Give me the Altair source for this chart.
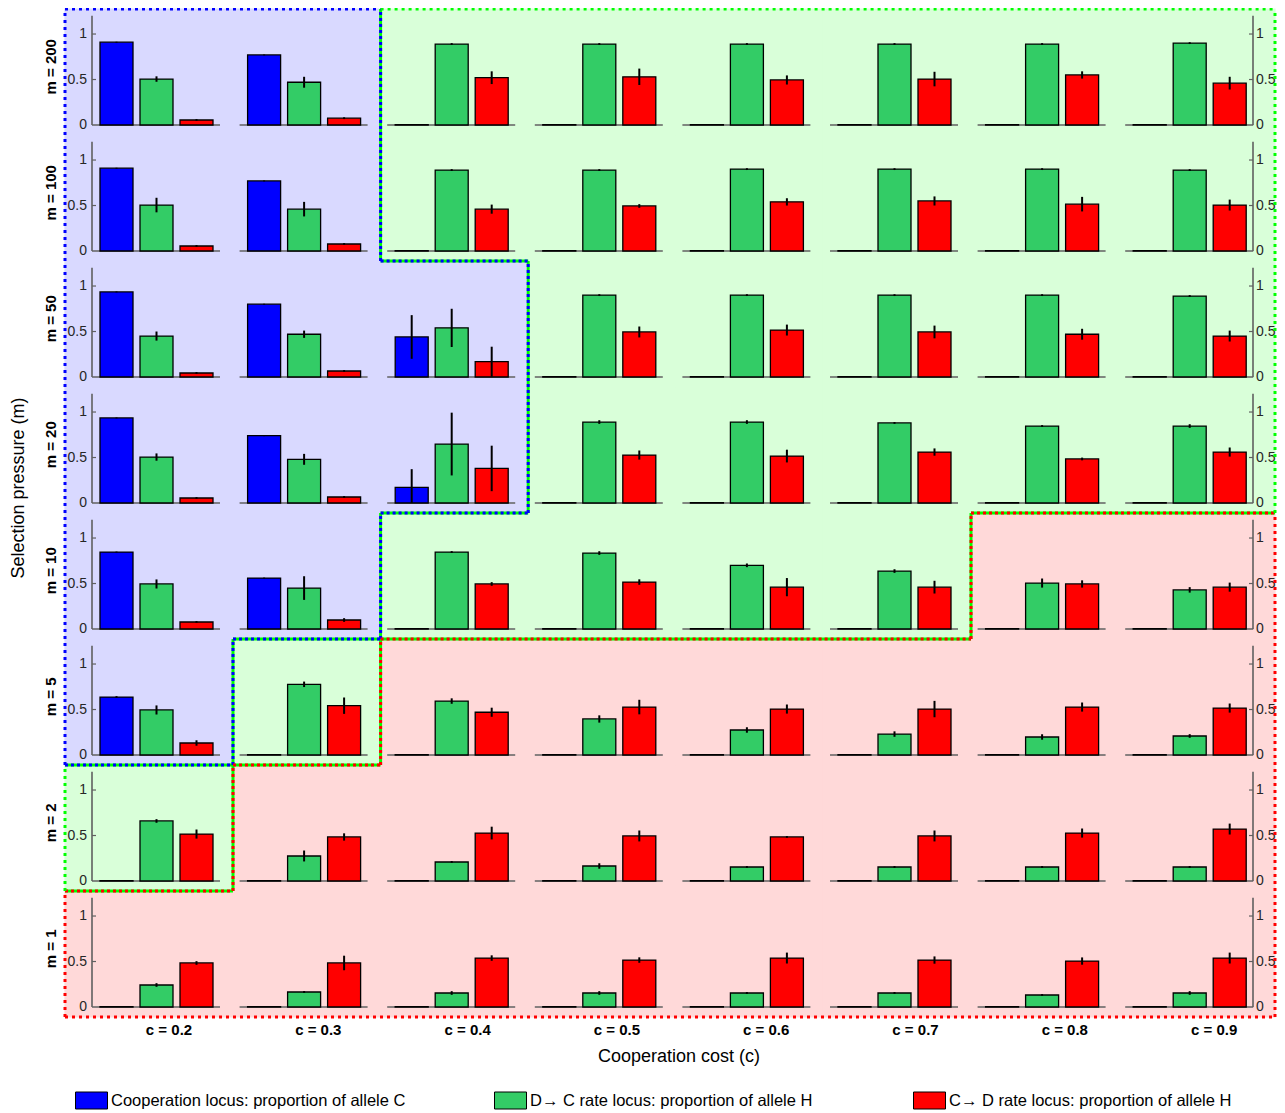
import altair as alt
import pandas as pd

# ---------------- data ----------------
M_LABELS = ["m = 200", "m = 100", "m = 50", "m = 20", "m = 10", "m = 5", "m = 2", "m = 1"]
C_LABELS = ["c = 0.2", "c = 0.3", "c = 0.4", "c = 0.5", "c = 0.6", "c = 0.7", "c = 0.8", "c = 0.9"]
SERIES = ["Cooperation locus: proportion of allele C",
          "D\u2192 C rate locus: proportion of allele H",
          "C\u2192 D rate locus: proportion of allele H"]
BAR_COLORS = ["#0000FF", "#33CC66", "#FF0000"]
TICK_VALUES = [0.0, 0.5, 1.0]
TICK_LABELS = ["0", "0.5", "1"]
X_TITLE = "Cooperation cost (c)"
Y_TITLE = "Selection pressure (m)"

BLUE = [
    [0.91, 0.77, 0.005, 0.005, 0.005, 0.005, 0.005, 0.005],
    [0.91, 0.77, 0.005, 0.005, 0.005, 0.005, 0.005, 0.005],
    [0.935, 0.80, 0.44, 0.005, 0.005, 0.005, 0.005, 0.005],
    [0.935, 0.74, 0.172, 0.005, 0.005, 0.005, 0.005, 0.005],
    [0.846, 0.56, 0.005, 0.005, 0.005, 0.005, 0.005, 0.005],
    [0.637, 0.005, 0.005, 0.005, 0.005, 0.005, 0.005, 0.005],
    [0.005, 0.005, 0.005, 0.005, 0.005, 0.005, 0.005, 0.005],
    [0.005, 0.005, 0.005, 0.005, 0.005, 0.005, 0.005, 0.005],
]
BLUE_ERR = [
    [0.005, 0.005, 0.005, 0.005, 0.005, 0.005, 0.005, 0.005],
    [0.005, 0.005, 0.005, 0.005, 0.005, 0.005, 0.005, 0.005],
    [0.005, 0.005, 0.24, 0.005, 0.005, 0.005, 0.005, 0.005],
    [0.005, 0.005, 0.20, 0.005, 0.005, 0.005, 0.005, 0.005],
    [0.005, 0.005, 0.005, 0.005, 0.005, 0.005, 0.005, 0.005],
    [0.01, 0.005, 0.005, 0.005, 0.005, 0.005, 0.005, 0.005],
    [0.005, 0.005, 0.005, 0.005, 0.005, 0.005, 0.005, 0.005],
    [0.005, 0.005, 0.005, 0.005, 0.005, 0.005, 0.005, 0.005],
]
GREEN = [
    [0.505, 0.47, 0.89, 0.89, 0.89, 0.89, 0.89, 0.90],
    [0.505, 0.46, 0.89, 0.89, 0.90, 0.90, 0.90, 0.89],
    [0.45, 0.47, 0.54, 0.90, 0.90, 0.90, 0.90, 0.89],
    [0.505, 0.48, 0.648, 0.89, 0.89, 0.88, 0.846, 0.846],
    [0.495, 0.45, 0.846, 0.835, 0.70, 0.637, 0.505, 0.43],
    [0.495, 0.777, 0.593, 0.396, 0.275, 0.23, 0.198, 0.209],
    [0.66, 0.275, 0.209, 0.165, 0.154, 0.154, 0.154, 0.154],
    [0.242, 0.165, 0.154, 0.154, 0.154, 0.154, 0.132, 0.154],
]
GREEN_ERR = [
    [0.03, 0.06, 0.01, 0.01, 0.01, 0.01, 0.01, 0.01],
    [0.08, 0.08, 0.01, 0.01, 0.01, 0.01, 0.01, 0.01],
    [0.05, 0.04, 0.21, 0.01, 0.01, 0.01, 0.01, 0.01],
    [0.04, 0.06, 0.345, 0.02, 0.02, 0.01, 0.01, 0.02],
    [0.05, 0.13, 0.01, 0.02, 0.02, 0.02, 0.05, 0.03],
    [0.05, 0.03, 0.03, 0.04, 0.03, 0.03, 0.03, 0.02],
    [0.02, 0.06, 0.01, 0.03, 0.01, 0.01, 0.01, 0.01],
    [0.02, 0.01, 0.02, 0.02, 0.01, 0.01, 0.01, 0.02],
]
RED = [
    [0.055, 0.075, 0.52, 0.53, 0.495, 0.505, 0.55, 0.46],
    [0.055, 0.077, 0.46, 0.495, 0.54, 0.55, 0.515, 0.505],
    [0.044, 0.066, 0.168, 0.495, 0.516, 0.495, 0.47, 0.45],
    [0.055, 0.066, 0.38, 0.527, 0.516, 0.56, 0.484, 0.56],
    [0.077, 0.099, 0.495, 0.516, 0.46, 0.46, 0.495, 0.46],
    [0.132, 0.542, 0.47, 0.527, 0.505, 0.505, 0.527, 0.516],
    [0.516, 0.484, 0.527, 0.495, 0.484, 0.495, 0.527, 0.571],
    [0.484, 0.484, 0.538, 0.516, 0.538, 0.516, 0.505, 0.538],
]
RED_ERR = [
    [0.01, 0.01, 0.07, 0.09, 0.05, 0.08, 0.04, 0.07],
    [0.01, 0.01, 0.05, 0.02, 0.04, 0.05, 0.08, 0.06],
    [0.01, 0.01, 0.165, 0.06, 0.06, 0.07, 0.06, 0.06],
    [0.01, 0.01, 0.25, 0.05, 0.07, 0.04, 0.015, 0.05],
    [0.01, 0.02, 0.02, 0.03, 0.10, 0.07, 0.04, 0.05],
    [0.03, 0.09, 0.05, 0.08, 0.05, 0.09, 0.05, 0.05],
    [0.05, 0.04, 0.07, 0.06, 0.01, 0.06, 0.05, 0.06],
    [0.02, 0.08, 0.03, 0.03, 0.06, 0.04, 0.04, 0.06],
]

# regime of each cell (B = cooperation, G = green regime, R = red regime)
REGIME = [
    "BBGGGGGG",
    "BBGGGGGG",
    "BBBGGGGG",
    "BBBGGGGG",
    "BBGGGGRR",
    "BGRRRRRR",
    "GRRRRRRR",
    "RRRRRRRR",
]
REGIME_FILL = {"B": "#D9D9FF", "G": "#D9FFD9", "R": "#FFD9D9"}
REGIME_LINE = {"B": "#0000FF", "G": "#00FF00", "R": "#FF0000"}

# ---------------- layout ----------------
NROW, NCOL = len(M_LABELS), len(C_LABELS)
STEP_PX = 147.6          # column step in pixels
CELL_PX = 128.0          # baseline length in a cell
SLOT_PX = [8.0, 48.0, 88.0]
BAR_PX = 33.0
W = 1161
H = 1008
R = 1.385                # row step in value units
PXU = H / (NROW * R)
YMIN = -10.0 / PXU
YMAX = YMIN + NROW * R
XMAX = W / STEP_PX
AXIS_TOP = 1.2

XS = alt.Scale(domain=[0, XMAX], nice=False, zero=False)
YS = alt.Scale(domain=[YMIN, YMAX], nice=False, zero=False)


def base(i):
    return (NROW - 1 - i) * R


rows = []
for i in range(NROW):
    for j in range(NCOL):
        for s, (vals, errs) in enumerate([(BLUE, BLUE_ERR), (GREEN, GREEN_ERR), (RED, RED_ERR)]):
            v, e = vals[i][j], errs[i][j]
            x0 = j + SLOT_PX[s] / STEP_PX
            x1 = x0 + BAR_PX / STEP_PX
            b = base(i)
            rows.append(dict(m=M_LABELS[i], c=C_LABELS[j], series=SERIES[s], value=v,
                             x0=x0, x1=x1, xc=(x0 + x1) / 2, yb=b, yt=b + v,
                             elo=b + max(v - e, 0.0), ehi=b + v + e))
bars_df = pd.DataFrame(rows)

base_df = pd.DataFrame([dict(bx0=j, bx1=j + CELL_PX / STEP_PX, by=base(i))
                        for i in range(NROW) for j in range(NCOL)])
axis_df = pd.DataFrame([dict(y0=base(i), y1=base(i) + AXIS_TOP) for i in range(NROW)])
tick_df = pd.DataFrame([dict(ty=base(i) + v) for i in range(NROW) for v in TICK_VALUES[1:]])
ticklab_df = pd.DataFrame([dict(ty=base(i) + v, lab=l) for i in range(NROW)
                           for v, l in zip(TICK_VALUES, TICK_LABELS)])

XLAB_A, XLAB_B = 77.0, 149.3
collab_df = pd.DataFrame([dict(cx=(XLAB_A + XLAB_B * j) / STEP_PX, lab=C_LABELS[j]) for j in range(NCOL)])


def vb(j):
    if j == 0:
        px = -27.0
    elif j == NCOL:
        px = 1183.0
    else:
        px = 141.0 + STEP_PX * (j - 1)
    return px / STEP_PX


def hb(i):
    return YMAX - i * R


bg = []
for i in range(NROW):
    for j in range(NCOL):
        bg.append(dict(cx0=vb(j), cx1=vb(j + 1), cy0=hb(i + 1), cy1=hb(i), reg=REGIME[i][j]))
bg_df = pd.DataFrame(bg)

segs = []


def add_seg(a, b, x0, x1, y0, y1):
    if a is None or b is None:
        c = a or b
        segs.append(dict(x0=x0, x1=x1, y0=y0, y1=y1, color=REGIME_LINE[c], kind="outer"))
    else:
        if "G" in (a, b):
            bc, oc = "G", (b if a == "G" else a)
        else:
            bc, oc = a, b
        segs.append(dict(x0=x0, x1=x1, y0=y0, y1=y1, color=REGIME_LINE[bc], kind="base"))
        segs.append(dict(x0=x0, x1=x1, y0=y0, y1=y1, color=REGIME_LINE[oc], kind="dash"))


for j in range(NCOL + 1):
    run_key, run_start = None, 0
    for i in range(NROW + 1):
        if i < NROW:
            a = REGIME[i][j - 1] if j > 0 else None
            b = REGIME[i][j] if j < NCOL else None
            key = (a, b) if a != b else None
        else:
            key = "END"
        if key != run_key:
            if run_key not in (None, "END"):
                add_seg(run_key[0], run_key[1], vb(j), vb(j), hb(i), hb(run_start))
            run_key, run_start = key, i

for i in range(NROW + 1):
    run_key, run_start = None, 0
    for j in range(NCOL + 1):
        if j < NCOL:
            a = REGIME[i - 1][j] if i > 0 else None
            b = REGIME[i][j] if i < NROW else None
            key = (a, b) if a != b else None
        else:
            key = "END"
        if key != run_key:
            if run_key not in (None, "END"):
                add_seg(run_key[0], run_key[1], vb(run_start), vb(j), hb(i), hb(i))
            run_key, run_start = key, j
seg_df = pd.DataFrame(segs)

label_df = pd.DataFrame([dict(m=M_LABELS[i], ly=base(i) + 0.64) for i in range(NROW)])
title_df = pd.DataFrame([dict(xt=X_TITLE, yt=Y_TITLE)])

# ---------------- chart ----------------
AX_GRAY = "#606060"
TICK_GRAY = "#262626"
layers = []
for reg, fill in REGIME_FILL.items():
    layers.append(
        alt.Chart(bg_df[bg_df.reg == reg]).mark_rect(fill=fill, stroke=fill, strokeWidth=1.2,
                                                     opacity=1).encode(
            x=alt.X("cx0:Q", scale=XS, axis=None), x2="cx1",
            y=alt.Y("cy0:Q", scale=YS, axis=None), y2="cy1")
    )

layers.append(
    alt.Chart(base_df).mark_rule(color=AX_GRAY, strokeWidth=1.6).encode(
        x=alt.X("bx0:Q", scale=XS, axis=None), x2="bx1",
        y=alt.Y("by:Q", scale=YS, axis=None))
)
for xa in (0, W):
    layers.append(
        alt.Chart(axis_df).mark_rule(color=AX_GRAY, strokeWidth=1.6).encode(
            x=alt.value(xa), y=alt.Y("y0:Q", scale=YS, axis=None), y2="y1")
    )
layers.append(
    alt.Chart(tick_df).mark_rule(color=AX_GRAY, strokeWidth=1.2).encode(
        x=alt.value(0), x2=alt.value(4), y=alt.Y("ty:Q", scale=YS, axis=None))
)
layers.append(
    alt.Chart(tick_df).mark_rule(color=AX_GRAY, strokeWidth=1.2).encode(
        x=alt.value(W - 4), x2=alt.value(W), y=alt.Y("ty:Q", scale=YS, axis=None))
)
layers.append(
    alt.Chart(ticklab_df).mark_text(align="right", baseline="middle", fontSize=14, color=TICK_GRAY).encode(
        x=alt.value(-5), y=alt.Y("ty:Q", scale=YS, axis=None), text="lab:N")
)
layers.append(
    alt.Chart(ticklab_df).mark_text(align="left", baseline="middle", fontSize=14, color=TICK_GRAY).encode(
        x=alt.value(W + 3), y=alt.Y("ty:Q", scale=YS, axis=None), text="lab:N")
)

legend = alt.Legend(title=None, orient="none", legendX=-17, legendY=1075, direction="horizontal",
                    columns=3, gridAlign="all", columnPadding=86, padding=0,
                    symbolType="M-1,-0.53125H1V0.53125H-1Z", symbolSize=1024,
                    symbolStrokeColor="black", symbolStrokeWidth=1, symbolOpacity=1,
                    labelFontSize=16.5, labelOffset=3, labelLimit=600, labelColor="black")

layers.append(
    alt.Chart(bars_df).mark_rect(stroke="black", strokeWidth=1.3, opacity=1).encode(
        x=alt.X("x0:Q", scale=XS, axis=None), x2="x1",
        y=alt.Y("yb:Q", scale=YS, axis=None), y2="yt",
        fill=alt.Fill("series:N", scale=alt.Scale(domain=SERIES, range=BAR_COLORS), legend=legend))
)
layers.append(
    alt.Chart(bars_df).mark_rule(color="black", strokeWidth=2).encode(
        x=alt.X("xc:Q", scale=XS, axis=None),
        y=alt.Y("elo:Q", scale=YS, axis=None), y2="ehi")
)

for kind, dash in [("base", None), ("dash", [3, 3]), ("outer", [3, 4])]:
    sub = seg_df[seg_df.kind == kind]
    for col in sub.color.unique():
        d = sub[sub.color == col]
        mk = dict(color=col, strokeWidth=3)
        if dash:
            mk["strokeDash"] = dash
        layers.append(
            alt.Chart(d).mark_rule(**mk).encode(
                x=alt.X("x0:Q", scale=XS, axis=None), x2="x1",
                y=alt.Y("y0:Q", scale=YS, axis=None), y2="y1")
        )

layers.append(
    alt.Chart(label_df).mark_text(angle=270, fontSize=15, fontWeight="bold", align="center",
                                  baseline="middle", color="black").encode(
        x=alt.value(-41), y=alt.Y("ly:Q", scale=YS, axis=None), text="m:N")
)
layers.append(
    alt.Chart(collab_df).mark_text(fontSize=15, fontWeight="bold", align="center",
                                   baseline="middle", color="black").encode(
        x=alt.X("cx:Q", scale=XS, axis=None), y=alt.value(H + 13), text="lab:N")
)
layers.append(
    alt.Chart(title_df).mark_text(fontSize=18, align="center", baseline="middle", color="black").encode(
        x=alt.value(587), y=alt.value(H + 40), text="xt:N")
)
layers.append(
    alt.Chart(title_df).mark_text(fontSize=18, angle=270, align="center", baseline="middle",
                                  color="black").encode(
        x=alt.value(-73), y=alt.value(479), text="yt:N")
)

chart = alt.layer(*layers).properties(
    width=W, height=H,
    autosize=alt.AutoSizeParams(type="none"),
    padding={"left": 84, "top": 1, "right": 24, "bottom": 100},
).configure(font="Liberation Sans").configure_view(stroke=None)

chart.save("out.html", embed_options={"renderer": "svg", "actions": False})
